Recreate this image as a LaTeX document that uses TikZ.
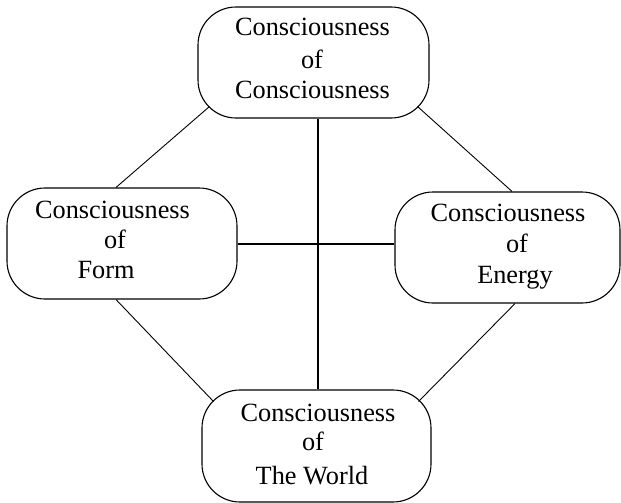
\documentclass[tikz,border=0pt]{standalone}
\usepackage{fontspec}
\setmainfont{Liberation Serif}
\begin{document}
\begin{tikzpicture}[x=1pt,y=-1pt,
  boxstyle/.style={draw,line width=1.1pt,rounded corners=38pt,inner sep=0pt,minimum height=111pt},
  lbl/.style={anchor=base,inner sep=0pt,font=\fontsize{26.3}{31}\selectfont},
  thinline/.style={line width=0.9pt},
  thickline/.style={line width=2pt}]
\useasboundingbox (0,0) rectangle (621,503);
\node[boxstyle,minimum width=231pt] (top) at (313.5,62.5) {};
\node[boxstyle,minimum width=230pt] (left) at (122,243.5) {};
\node[boxstyle,minimum width=225pt] (right) at (507.5,247.5) {};
\node[boxstyle,minimum width=229pt,minimum height=112pt] (bottom) at (316.5,446) {};
% texts
\node[lbl] (t1) at (312.5,36) {Consciousness};
\node[lbl] (t2) at (312,69) {of};
\node[lbl] (t3) at (312.5,98) {Consciousness};
\node[lbl] (l1) at (112.5,218) {Consciousness};
\node[lbl] (l2) at (115,248) {of};
\node[lbl] (l3) at (106,278) {Form};
\node[lbl] (r1) at (508,221) {Consciousness};
\node[lbl] (r2) at (517,252) {of};
\node[lbl] (r3) at (515,283) {Energy};
\node[lbl] (b1) at (318,421) {Consciousness};
\node[lbl] (b2) at (313,450) {of};
\node[lbl] (b3) at (312,484) {The World};
% connectors
\coordinate (vx) at (318,0);
\draw[thickline] (top.south -| vx) -- (bottom.north -| vx);
\draw[thickline] (left.east) -- (left.east -| right.west);
\draw[thinline] ([shift={(12,-12)}]top.south west) -- ([shift={(-6,0)}]left.north);
\draw[thinline] ([shift={(-12,-12)}]top.south east) -- ([shift={(4.5,0)}]right.north);
\draw[thinline] ([shift={(-6,0)}]left.south) -- ([shift={(12,12)}]bottom.north west);
\draw[thinline] ([shift={(7.5,0)}]right.south) -- ([shift={(-13,12)}]bottom.north east);
\end{tikzpicture}
\end{document}
